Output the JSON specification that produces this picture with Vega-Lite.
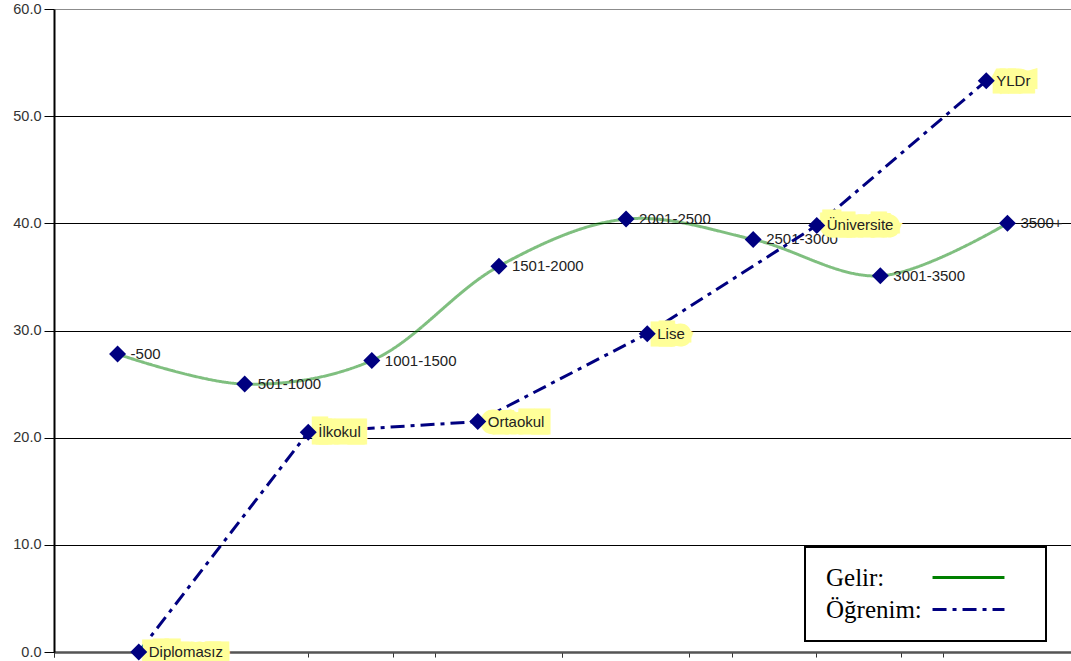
{
  "$schema": "https://vega.github.io/schema/vega-lite/v6.json",
  "width": 1017,
  "height": 643,
  "autosize": "none",
  "padding": {"left": 54, "top": 9, "right": 0, "bottom": 9},
  "background": "white",
  "config": {"view": {"stroke": null}, "font": "Liberation Sans", "legend": {"strokeWidth": 2}},
  "encoding": {
    "y": {
      "field": "deger",
      "type": "quantitative",
      "scale": {"domain": [0, 60], "nice": false, "zero": true},
      "axis": {
        "title": null,
        "values": [0, 10, 20, 30, 40, 50, 60],
        "format": ".1f",
        "labelFont": "Liberation Sans",
        "labelFontSize": 14.5,
        "labelColor": "#333333",
        "labelPadding": 3,
        "tickSize": 10,
        "tickColor": "black",
        "domainColor": "black",
        "domainWidth": 2,
        "grid": true,
        "gridColor": {"condition": {"test": "datum.value === 60", "value": "#8c8c8c"}, "value": "black"},
        "gridWidth": 1
      }
    }
  },
  "layer": [
    {
      "data": {
        "values": [
          {"kategori": "-500", "deger": 27.8, "seri": "Gelir"},
          {"kategori": "501-1000", "deger": 25.0, "seri": "Gelir"},
          {"kategori": "1001-1500", "deger": 27.2, "seri": "Gelir"},
          {"kategori": "1501-2000", "deger": 36.0, "seri": "Gelir"},
          {"kategori": "2001-2500", "deger": 40.4, "seri": "Gelir"},
          {"kategori": "2501-3000", "deger": 38.5, "seri": "Gelir"},
          {"kategori": "3001-3500", "deger": 35.1, "seri": "Gelir"},
          {"kategori": "3500+", "deger": 40.0, "seri": "Gelir"}
        ]
      },
      "encoding": {
        "x": {
          "field": "kategori",
          "type": "ordinal",
          "sort": null,
          "scale": {"type": "band", "paddingInner": 0, "paddingOuter": 0},
          "axis": {
            "orient": "bottom",
            "title": null,
            "labels": false,
            "ticks": true,
            "tickSize": 5,
            "tickColor": "#333333",
            "bandPosition": 0,
            "domainColor": "#555555",
            "domainWidth": 2,
            "grid": false
          }
        }
      },
      "layer": [
        {
          "mark": {"type": "line", "interpolate": "catmull-rom", "strokeWidth": 3, "opacity": 0.5},
          "encoding": {
            "color": {
              "field": "seri",
              "type": "nominal",
              "scale": {"domain": ["Gelir", "Öğrenim"], "range": ["#008000", "#000080"]},
              "legend": {
                "title": null,
                "orient": "none",
                "legendX": 751,
                "legendY": 538,
                "direction": "vertical",
                "padding": 18,
                "fillColor": "white",
                "strokeColor": "black",
                "cornerRadius": 0,
                "labelFont": "Liberation Serif",
                "labelFontSize": 25,
                "labelColor": "black",
                "labelExpr": "datum.label + ':'",
                "labelAlign": "left",
                "labelOffset": -155,
                "symbolType": "M-5,0H5M7.4,0h0",
                "symbolSize": 207,
                "symbolOffset": 133,
                "symbolStrokeWidth": 3,
                "symbolOpacity": 1,
                "rowPadding": 6
              }
            },
            "strokeDash": {
              "field": "seri",
              "type": "nominal",
              "scale": {"domain": ["Gelir", "Öğrenim"], "range": [[1, 0], [14, 6, 4, 6]]},
              "legend": null
            }
          }
        },
        {
          "mark": {"type": "point", "shape": "diamond", "filled": true, "color": "#000080", "opacity": 1, "size": 290}
        },
        {
          "mark": {"type": "text", "align": "left", "baseline": "middle", "dx": 13, "fontSize": 15, "font": "Liberation Sans", "color": "#222222"},
          "encoding": {"text": {"field": "kategori"}}
        }
      ]
    },
    {
      "data": {
        "values": [
          {"kategori": "Diplomasız", "deger": 0.0, "seri": "Öğrenim"},
          {"kategori": "İlkokul", "deger": 20.5, "seri": "Öğrenim"},
          {"kategori": "Ortaokul", "deger": 21.5, "seri": "Öğrenim"},
          {"kategori": "Lise", "deger": 29.7, "seri": "Öğrenim"},
          {"kategori": "Üniversite", "deger": 39.8, "seri": "Öğrenim"},
          {"kategori": "YLDr", "deger": 53.3, "seri": "Öğrenim"}
        ]
      },
      "encoding": {
        "x": {
          "field": "kategori",
          "type": "ordinal",
          "sort": null,
          "scale": {"type": "band", "paddingInner": 0, "paddingOuter": 0},
          "axis": {
            "orient": "bottom",
            "title": null,
            "labels": false,
            "ticks": true,
            "tickSize": 5,
            "tickColor": "#333333",
            "bandPosition": 0,
            "domainColor": "#555555",
            "domainWidth": 2,
            "grid": false
          }
        }
      },
      "layer": [
        {
          "mark": {"type": "line", "interpolate": "linear", "strokeWidth": 3},
          "encoding": {
            "color": {"field": "seri", "type": "nominal"},
            "strokeDash": {"field": "seri", "type": "nominal", "legend": null}
          }
        },
        {
          "mark": {"type": "text", "align": "left", "baseline": "middle", "dx": 10, "fontSize": 15, "font": "Liberation Sans", "fill": "#ffff99", "stroke": "#ffff99", "strokeWidth": 15, "strokeJoin": "miter", "strokeMiterLimit": 2},
          "encoding": {"text": {"field": "kategori"}}
        },
        {
          "mark": {"type": "point", "shape": "diamond", "filled": true, "color": "#000080", "opacity": 1, "size": 290}
        },
        {
          "mark": {"type": "text", "align": "left", "baseline": "middle", "dx": 10, "fontSize": 15, "font": "Liberation Sans", "color": "#222222"},
          "encoding": {"text": {"field": "kategori"}}
        }
      ]
    }
  ],
  "resolve": {"scale": {"x": "independent"}, "axis": {"x": "independent"}}
}
